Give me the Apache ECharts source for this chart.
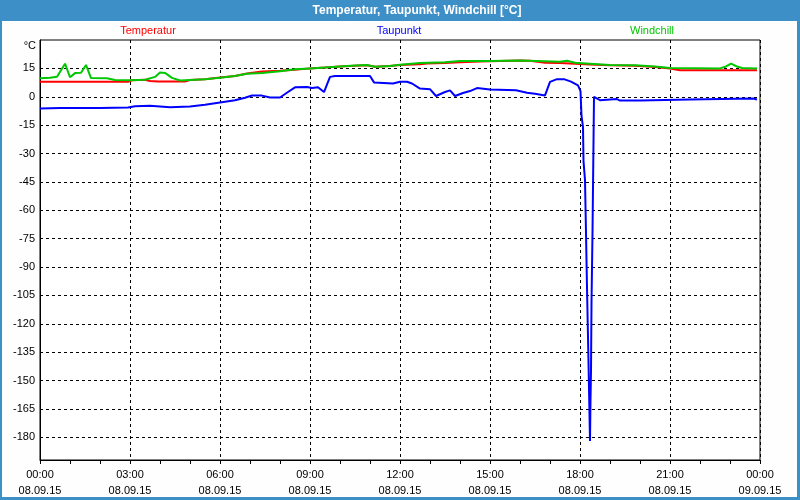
<!DOCTYPE html>
<html><head><meta charset="utf-8">
<script src="https://cdn.jsdelivr.net/npm/echarts@6/dist/echarts.min.js"></script>
<style>html,body{margin:0;padding:0;background:#fdfefd}#c{width:800px;height:500px}</style>
</head><body><div id="c"></div>
<script>
// ---- data (time of day 08.09.15, °C) ----
const seriesNames = ['Temperatur', 'Taupunkt', 'Windchill'];
const yTicks = [-180, -165, -150, -135, -120, -105, -90, -75, -60, -45, -30, -15, 0, 15];
const xTickHours = [0, 3, 6, 9, 12, 15, 18, 21, 24];

const tempTimes = ['00:00','02:56','03:04','03:30','03:40','03:56','04:50','05:00','05:30','06:00','06:30','06:54','07:24','08:00','08:30','09:00','09:30','10:00','10:30','10:54','11:10','11:40','12:00','12:40','12:54','13:30','14:00','14:40','15:00','16:00','16:20','16:50','17:20','17:50','18:20','19:00','19:50','20:30','21:00','21:20','23:54'];
const tempValues = [7.9,7.9,8.7,9.0,8.3,8.0,8.0,8.8,9.3,10.2,11.0,12.3,13.3,13.8,14.3,15.0,15.4,16.0,16.4,16.6,15.9,16.3,16.8,17.2,17.6,17.9,18.3,18.6,18.8,19.1,19.0,18.0,17.8,17.4,17.1,16.6,16.4,15.7,14.9,14.0,14.0];

const dewTimes = ['00:00','00:40','02:00','02:56','03:10','03:40','04:20','05:00','05:30','06:00','06:30','06:50','07:04','07:24','07:40','08:00','08:16','08:30','08:54','09:04','09:16','09:28','09:40','09:50','11:00','11:08','11:46','12:00','12:14','12:24','12:40','13:00','13:12','13:30','13:40','13:50','14:06','14:20','14:34','15:00','15:52','16:14','16:30','16:50','17:00','17:14','17:28','17:42','17:56','18:01','18:03','18:06','18:07','18:10','18:12','18:14','18:16','18:18','18:20','18:21','18:22','18:23','18:25','18:28','18:29','18:32','18:40','19:14','19:20','20:00','20:04','21:40','21:44','23:46','23:54'];
const dewValues = [-6.2,-6.0,-6.0,-5.7,-5.0,-4.7,-5.5,-5.2,-4.2,-3.0,-1.8,-0.5,0.7,0.6,-0.4,-0.4,2.5,5.0,5.2,4.6,5.0,2.5,10.5,11.0,11.0,7.6,7.0,7.9,7.9,7.0,4.3,4.0,0.4,2.5,3.4,0.4,2.0,3.0,4.6,3.8,3.4,2.1,1.6,0.7,7.9,9.3,9.3,8.0,6.0,3.0,-10,-16,-34,-44,-72,-101,-127,-154,-182,-160,-145,-109,-72,0,-0.4,-0.4,-1.8,-1.2,-2.0,-2.0,-1.4,-1.4,-0.9,-0.9,-1.4];

const chillTimes = ['00:00','00:20','00:34','00:50','01:00','01:10','01:22','01:32','01:42','02:14','02:30','03:00','03:30','03:50','04:00','04:10','04:24','04:40','05:00','05:30','06:00','06:30','06:54','07:24','08:00','08:30','09:00','09:30','10:00','10:30','10:54','11:10','11:40','12:00','12:40','13:30','14:00','15:00','16:00','16:50','17:20','17:34','17:50','18:20','19:00','19:50','20:30','21:00','22:40','22:52','23:02','23:14','23:24','23:54'];
const chillValues = [9.8,10.0,10.6,17.5,10.3,12.5,12.7,16.8,9.9,9.8,8.9,8.7,9.0,10.5,12.8,12.6,10.0,8.6,8.9,9.3,10.0,11.0,12.2,12.6,13.5,14.5,15.0,15.5,16.0,16.5,16.8,15.9,16.3,16.9,17.8,18.2,18.9,18.9,19.2,18.8,18.5,19.0,18.0,17.5,16.8,16.6,16.0,15.2,15.0,16.0,17.5,16.0,15.2,15.0];

function toHours(t) { const p = t.split(':').map(Number); return p[0] + p[1] / 60; }
function pairs(times, vals) { return times.map((t, i) => [toHours(t), vals[i]]); }
function pad(n) { return (n < 10 ? '0' : '') + n; }

const FONT = 'Liberation Sans, Arial, sans-serif';
const chart = echarts.init(document.getElementById('c'), null, { renderer: 'canvas' });
chart.setOption({
  animation: false,
  backgroundColor: '#fdfefd',
  graphic: [
    { type: 'rect', shape: { x: 0, y: 0, width: 800, height: 21 }, style: { fill: '#3d8fc7' }, silent: true },
    { type: 'rect', shape: { x: 0, y: 0, width: 2, height: 500 }, style: { fill: '#3d8fc7' }, silent: true },
    { type: 'rect', shape: { x: 797, y: 0, width: 3, height: 500 }, style: { fill: '#3d8fc7' }, silent: true },
    { type: 'rect', shape: { x: 0, y: 497, width: 800, height: 3 }, style: { fill: '#3d8fc7' }, silent: true },
    { type: 'text', x: 417, y: 11, style: { text: 'Temperatur, Taupunkt, Windchill [°C]', fill: '#ffffff', font: 'bold 12px ' + FONT, textAlign: 'center', textVerticalAlign: 'middle' } },
    { type: 'text', x: 148, y: 31, style: { text: seriesNames[0], fill: '#ff0000', font: '11px ' + FONT, textAlign: 'center', textVerticalAlign: 'middle' } },
    { type: 'text', x: 399, y: 31, style: { text: seriesNames[1], fill: '#0000ff', font: '11px ' + FONT, textAlign: 'center', textVerticalAlign: 'middle' } },
    { type: 'text', x: 652, y: 31, style: { text: seriesNames[2], fill: '#00c800', font: '11px ' + FONT, textAlign: 'center', textVerticalAlign: 'middle' } },
    { type: 'text', x: 36, y: 46, style: { text: '°C', fill: '#000000', font: '11px ' + FONT, textAlign: 'right', textVerticalAlign: 'middle' } }
  ],
  grid: { left: 40, right: 40, top: 40, bottom: 40, show: true, borderColor: '#000', borderWidth: 1, backgroundColor: '#ffffff', containLabel: false },
  xAxis: {
    type: 'value', min: 0, max: 24, interval: 3,
    axisLine: { show: true, onZero: false, lineStyle: { color: '#000', width: 1 } },
    axisTick: { show: true, length: 4, lineStyle: { color: '#000' } },
    minorTick: { show: true, splitNumber: 3, length: 4, lineStyle: { color: '#000' } },
    splitLine: { show: true, lineStyle: { color: '#000', type: [3, 3], width: 1 } },
    axisLabel: {
      show: true, margin: 7, color: '#000', fontSize: 11, fontFamily: FONT, lineHeight: 16,
      showMinLabel: true, showMaxLabel: true, hideOverlap: false,
      formatter: v => pad(v % 24) + ':00\n' + (v >= 24 ? '09.09.15' : '08.09.15')
    }
  },
  yAxis: {
    type: 'value', min: -192, max: 30,
    axisLine: { show: true, onZero: false, lineStyle: { color: '#000', width: 1 } },
    axisTick: { show: false, customValues: yTicks },
    splitLine: { show: true, lineStyle: { color: '#000', type: [3, 3], width: 1 } },
    axisLabel: { show: true, customValues: yTicks, margin: 5, color: '#000', fontSize: 11, fontFamily: FONT, hideOverlap: false }
  },
  series: [
    { name: seriesNames[0], type: 'line', data: pairs(tempTimes, tempValues), showSymbol: false, symbol: 'none', lineStyle: { color: '#ff0000', width: 2 }, itemStyle: { color: '#ff0000' }, z: 2 },
    { name: seriesNames[1], type: 'line', data: pairs(dewTimes, dewValues), showSymbol: false, symbol: 'none', lineStyle: { color: '#0000ff', width: 2 }, itemStyle: { color: '#0000ff' }, z: 3 },
    { name: seriesNames[2], type: 'line', data: pairs(chillTimes, chillValues), showSymbol: false, symbol: 'none', lineStyle: { color: '#00c800', width: 2 }, itemStyle: { color: '#00c800' }, z: 4 }
  ]
});
</script></body></html>
